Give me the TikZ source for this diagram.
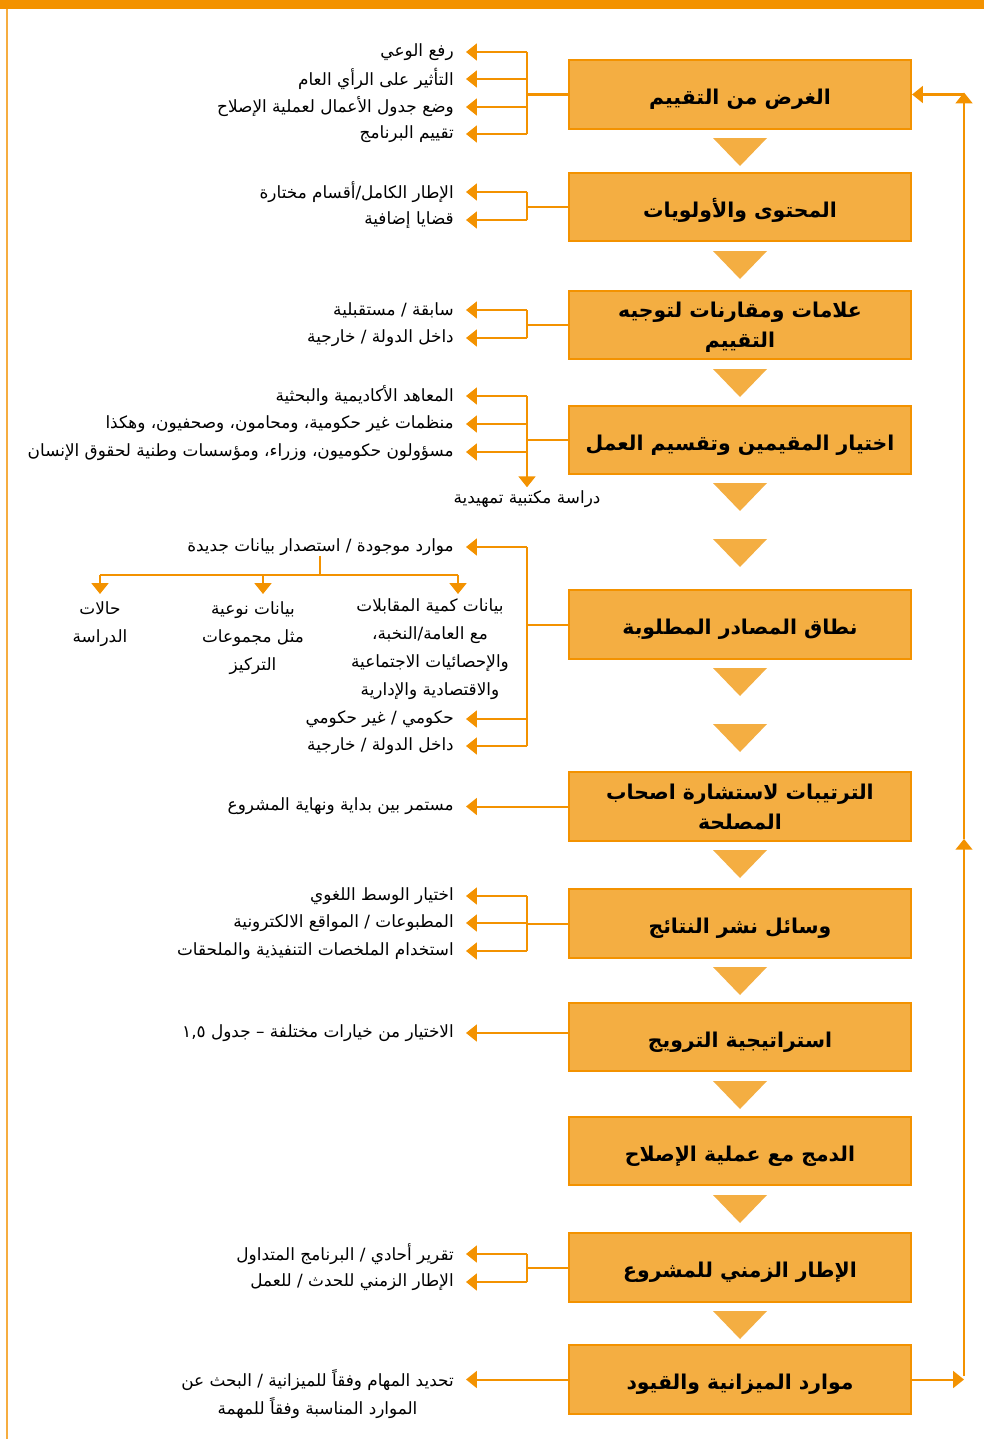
\documentclass[tikz,border=0pt]{standalone}
\usepackage{fontspec}
\usepackage{tikz}
\usetikzlibrary{arrows.meta, calc, positioning}
\newfontfamily\arabicfont[Script=Arabic]{DejaVu Sans}
\TeXXeTstate=1
\definecolor{flow}{HTML}{F39200}
\definecolor{boxfill}{HTML}{F4AE42}
\newcommand{\rl}[1]{\beginR #1\endR}

\begin{document}
\begin{tikzpicture}[x=0.025cm, y=-0.025cm, >={Triangle[width=0.42cm,length=0.27cm]},
  stage/.style={draw=flow, line width=0.05cm, fill=boxfill, minimum width=8.55cm, minimum height=1.72cm,
    inner sep=0, align=center, text depth=0pt, font=\arabicfont\bfseries\fontsize{14.5}{21}\selectfont},
  oneline/.style={stage, text height=0.52cm},
  item/.style={anchor=east, inner xsep=0.3cm, inner ysep=0, font=\arabicfont\fontsize{12}{19.9}\selectfont},
  note/.style={inner sep=0, align=center, font=\arabicfont\fontsize{12}{19.9}\selectfont},
  line/.style={draw=flow, line width=0.05cm},
  link/.style={line, ->}]
  \useasboundingbox (0,0) rectangle (984,1439);
  \fill[flow] (0,0) rectangle (984,9);
  \draw[flow!75, line width=0.05cm] (7,9) -- (7,1439);
  \coordinate (rail) at (527,0);
  \coordinate (loop) at (964,0);

  % main column
  \node[oneline] (b1) at (740,94.5) {\rl{الغرض من التقييم}};
  \node[oneline] (b2) at (740,207) {\rl{المحتوى والأولويات}};
  \node[stage] (b3) at (740,325) {\rl{علامات ومقارنات لتوجيه}\\\rl{التقييم}};
  \node[oneline] (b4) at (740,440) {\rl{اختيار المقيمين وتقسيم العمل}};
  \node[oneline] (b5) at (740,624.5) {\rl{نطاق المصادر المطلوبة}};
  \node[stage] (b6) at (740,806.5) {\rl{الترتيبات لاستشارة اصحاب}\\\rl{المصلحة}};
  \node[oneline] (b7) at (740,923.5) {\rl{وسائل نشر النتائج}};
  \node[oneline] (b8) at (740,1037) {\rl{استراتيجية الترويج}};
  \node[oneline] (b9) at (740,1151) {\rl{الدمج مع عملية الإصلاح}};
  \node[oneline] (b10) at (740,1267.5) {\rl{الإطار الزمني للمشروع}};
  \node[oneline] (b11) at (740,1379.5) {\rl{موارد الميزانية والقيود}};
  \foreach \t in {138,251,369,483,539,668,724,850,967,1081,1195,1311}
    \fill[boxfill] (713,\t) -- (767,\t) -- (740,\t+28) -- cycle;

  % purpose
  \node[item] (a1) at (466,52) {\rl{رفع الوعي}};
  \node[item] (a2) at (466,79) {\rl{التأثير على الرأي العام}};
  \node[item] (a3) at (466,107) {\rl{وضع جدول الأعمال لعملية الإصلاح}};
  \node[item] (a4) at (466,134) {\rl{تقييم البرنامج}};
  \draw[line] (b1.west) -- (b1.west -| rail);
  \draw[line] (rail |- a1) -- (rail |- a4);
  \foreach \n in {a1,a2,a3,a4} \draw[link] (rail |- \n) -- (\n.east);

  % content
  \node[item] (c1) at (466,192) {\rl{الإطار الكامل/أقسام مختارة}};
  \node[item] (c2) at (466,220) {\rl{قضايا إضافية}};
  \draw[line] (b2.west) -- (b2.west -| rail);
  \draw[line] (rail |- c1) -- (rail |- c2);
  \foreach \n in {c1,c2} \draw[link] (rail |- \n) -- (\n.east);

  % benchmarks
  \node[item] (m1) at (466,310) {\rl{سابقة / مستقبلية}};
  \node[item] (m2) at (466,338) {\rl{داخل الدولة / خارجية}};
  \draw[line] (b3.west) -- (b3.west -| rail);
  \draw[line] (rail |- m1) -- (rail |- m2);
  \foreach \n in {m1,m2} \draw[link] (rail |- \n) -- (\n.east);

  % evaluators
  \node[item] (e1) at (466,396) {\rl{المعاهد الأكاديمية والبحثية}};
  \node[item] (e2) at (466,424) {\rl{منظمات غير حكومية، ومحامون، وصحفيون، وهكذا}};
  \node[item] (e3) at (466,452) {\rl{مسؤولون حكوميون، وزراء، ومؤسسات وطنية لحقوق الإنسان}};
  \node[note] (desk) at (527,499) {\rl{دراسة مكتبية تمهيدية}};
  \draw[line] (b4.west) -- (b4.west -| rail);
  \foreach \n in {e1,e2,e3} \draw[link] (rail |- \n) -- (\n.east);
  \draw[link] (rail |- e1) -- ($(desk.north)+(0,-3)$);

  % sources
  \node[item] (s1) at (466,547) {\rl{موارد موجودة / استصدار بيانات جديدة}};
  \node[item] (s2) at (466,719) {\rl{حكومي / غير حكومي}};
  \node[item] (s3) at (466,746) {\rl{داخل الدولة / خارجية}};
  \draw[line] (b5.west) -- (b5.west -| rail);
  \draw[line] (rail |- s1) -- (rail |- s3);
  \foreach \n in {s1,s2,s3} \draw[link] (rail |- \n) -- (\n.east);
  \coordinate (fork) at (320,575);
  \coordinate (q1) at (100,594);
  \coordinate (q2) at (263,594);
  \coordinate (q3) at (458,594);
  \draw[line] (fork |- s1.south) -- (fork);
  \draw[line] (fork -| q1) -- (fork -| q3);
  \foreach \q in {q1,q2,q3} \draw[link] (fork -| \q) -- (\q);
  \node[note, anchor=north] (k1) at (100,601) {\rl{حالات}\\\rl{الدراسة}};
  \node[note, anchor=north] (k2) at (253,601) {\rl{بيانات نوعية}\\\rl{مثل مجموعات}\\\rl{التركيز}};
  \node[note, anchor=north] (k3) at (430,598) {\rl{بيانات كمية المقابلات}\\\rl{مع العامة/النخبة،}\\\rl{والإحصائيات الاجتماعية}\\\rl{والاقتصادية والإدارية}};

  % stakeholders
  \node[item] (h1) at (466,806.5) {\rl{مستمر بين بداية ونهاية المشروع}};
  \draw[link] (b6.west |- h1) -- (h1.east);

  % dissemination
  \node[item] (g1) at (466,896) {\rl{اختيار الوسط اللغوي}};
  \node[item] (g2) at (466,923) {\rl{المطبوعات / المواقع الالكترونية}};
  \node[item] (g3) at (466,951) {\rl{استخدام الملخصات التنفيذية والملحقات}};
  \draw[line] (b7.west) -- (b7.west -| rail);
  \draw[line] (rail |- g1) -- (rail |- g3);
  \foreach \n in {g1,g2,g3} \draw[link] (rail |- \n) -- (\n.east);

  % promotion
  \node[item] (p1) at (466,1033) {\rl{الاختيار من خيارات مختلفة – جدول \beginL ١,٥\endL}};
  \draw[link] (b8.west |- p1) -- (p1.east);

  % time frame
  \node[item] (t1) at (466,1254) {\rl{تقرير أحادي / البرنامج المتداول}};
  \node[item] (t2) at (466,1282) {\rl{الإطار الزمني للحدث / للعمل}};
  \draw[line] (b10.west) -- (b10.west -| rail);
  \draw[line] (rail |- t1) -- (rail |- t2);
  \foreach \n in {t1,t2} \draw[link] (rail |- \n) -- (\n.east);

  % budget
  \node[item, align=center, anchor=north east] (r1) at (466,1369) {\rl{تحديد المهام وفقاً للميزانية / البحث عن}\\\rl{الموارد المناسبة وفقاً للمهمة}};
  \draw[link] (b11.west) -- (b11.west -| r1.east);

  % feedback loop
  \draw[link] (b11.east) -- (b11.east -| loop);
  \draw[link] ($(b11.east -| loop)+(0,-4)$) -- ($(b6.south -| loop)+(0,-3)$);
  \draw[link] ($(b6.south -| loop)+(0,-3)$) -- ($(b1.east -| loop)+(0,-2)$);
  \draw[link] (b1.east -| loop) -- (b1.east);
\end{tikzpicture}
\end{document}
